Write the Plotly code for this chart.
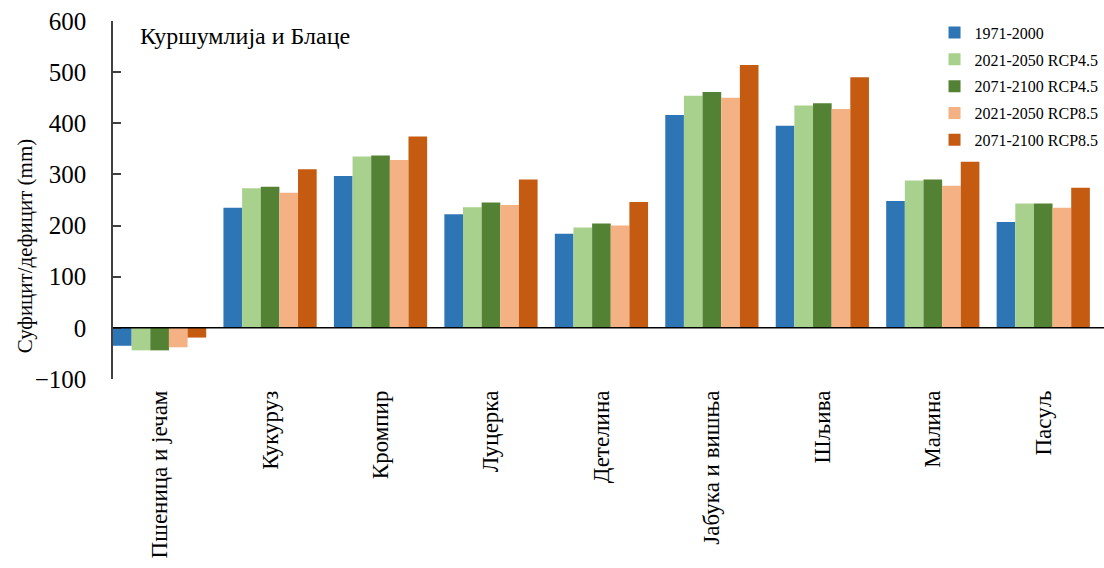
import plotly.graph_objects as go

categories = ["Пшеница и јечам", "Кукуруз", "Кромпир", "Луцерка", "Детелина",
              "Јабука и вишња", "Шљива", "Малина", "Пасуљ"]
series_names = ["1971-2000", "2021-2050 RCP4.5", "2071-2100 RCP4.5",
                "2021-2050 RCP8.5", "2071-2100 RCP8.5"]
v_1971_2000 = [-35, 235, 297, 222, 184, 416, 395, 248, 207]
v_2021_2050_rcp45 = [-44, 273, 335, 236, 196, 454, 435, 288, 243]
v_2071_2100_rcp45 = [-44, 276, 337, 245, 204, 461, 439, 290, 243]
v_2021_2050_rcp85 = [-38, 264, 328, 240, 200, 450, 428, 278, 235]
v_2071_2100_rcp85 = [-19, 310, 374, 290, 246, 514, 490, 325, 274]
y_ticks = [-100, 0, 100, 200, 300, 400, 500, 600]

values = [v_1971_2000, v_2021_2050_rcp45, v_2071_2100_rcp45,
          v_2021_2050_rcp85, v_2071_2100_rcp85]
colors = ["#2E75B6", "#A9D18E", "#548235", "#F4B183", "#C55A11"]

FONT = "Liberation Serif"

fig = go.Figure()
for i, (name, vals, col) in enumerate(zip(series_names, values, colors)):
    fig.add_trace(go.Bar(
        x=categories, y=vals, name=name, marker_color=col,
        marker_line_width=0, legendgroup=f"g{i}",
    ))

fig.update_layout(
    barmode="group", bargap=0.156, bargroupgap=0,
    width=1104, height=568,
    margin=dict(l=113, r=0, t=21, b=189),
    plot_bgcolor="white", paper_bgcolor="white",
    font=dict(family=FONT, color="black"),
    showlegend=True,
    legend=dict(x=0.829, y=1.015, xanchor="left", yanchor="top",
                font=dict(size=16, family=FONT), tracegroupgap=3,
                bgcolor="rgba(0,0,0,0)", itemclick=False),
)
fig.update_xaxes(
    type="category", range=[-0.422, 8.55],
    showline=False, showgrid=False, zeroline=False, ticks="",
    tickangle=-90, tickfont=dict(size=23, family=FONT),
    ticklabelstandoff=6,
)
fig.update_yaxes(
    range=[-100, 600], tickvals=y_ticks, showgrid=False, zeroline=False,
    showline=True, linecolor="#404040", linewidth=1.5,
    ticks="inside", ticklen=8, tickcolor="#404040", tickwidth=1.5,
    tickfont=dict(size=25, family=FONT), ticklabelstandoff=20,
)
fig.add_shape(type="line", xref="paper", x0=0, x1=1, yref="y", y0=0, y1=0,
              line=dict(color="black", width=1.5), layer="above")
fig.add_annotation(text="Суфицит/дефицит (mm)", textangle=-90,
                   xref="paper", yref="paper", x=-0.0888, y=0.371,
                   xanchor="center", yanchor="middle",
                   showarrow=False, font=dict(size=21, family=FONT))
fig.add_annotation(text="Куршумлија и Блаце", xref="paper", yref="paper",
                   x=0.025, y=0.958, xanchor="left", yanchor="middle",
                   showarrow=False, font=dict(size=24, family=FONT))

fig.write_html("out.html", post_script="document.body.style.margin='0';",
               config={"displayModeBar": False})
